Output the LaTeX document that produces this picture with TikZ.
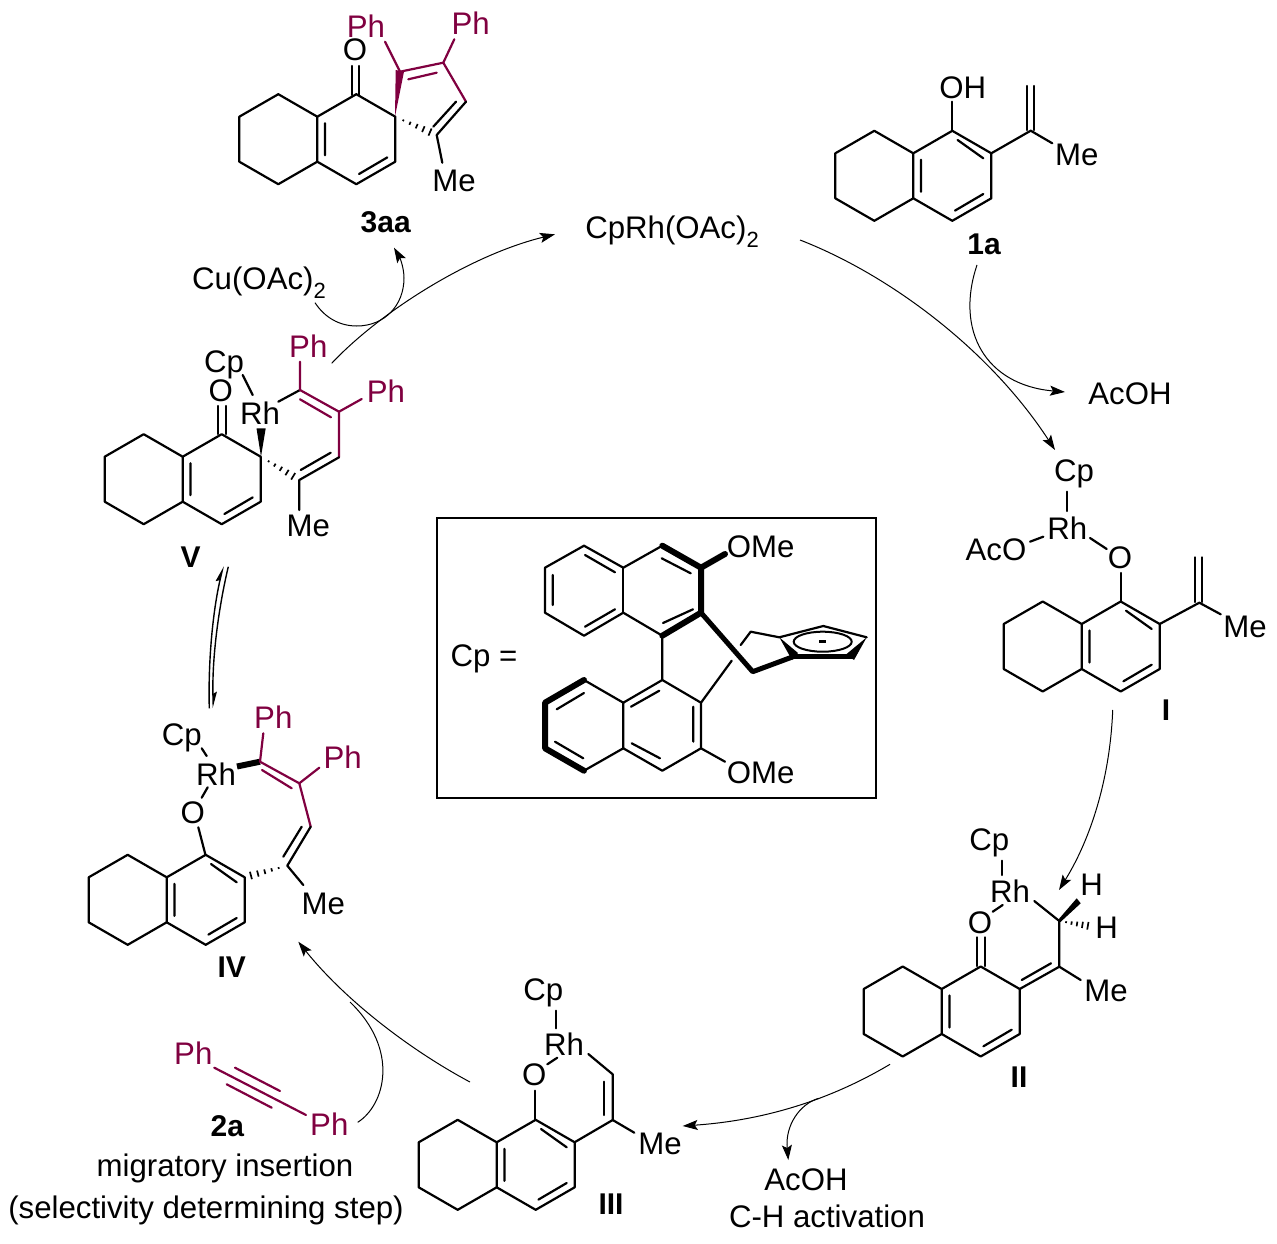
\documentclass[tikz,border=0pt]{standalone}
\usepackage{fontspec}
\setmainfont{Liberation Sans}
\usepackage{xcolor}
\usepackage{tikz}
\usetikzlibrary{calc}
\usetikzlibrary{arrows.meta}
\usetikzlibrary{shapes.geometric}
\definecolor{phcolor}{HTML}{800040}
\tikzstyle{bond}=[black, line width=2.2pt, line join=round, line cap=round]
\tikzstyle{phbond}=[phcolor, line width=2.2pt, line join=round, line cap=round]
\tikzstyle{boldbond}=[black, line width=6pt, line join=round, line cap=round]
\tikzstyle{atom}=[black, inner sep=0pt, font=\fontsize{31.2}{36}\selectfont]
\tikzstyle{phatom}=[phcolor, inner sep=0pt, font=\fontsize{31.2}{36}\selectfont]
\tikzstyle{cmpd}=[black, inner sep=0pt, font=\fontsize{30}{34}\selectfont\bfseries]
\tikzstyle{thinarrow}=[-{Stealth[length=15pt, width=10pt, inset=3pt]}, line width=1pt, color=black]
\tikzstyle{thinline}=[line width=1pt, color=black]
\newcommand{\subtwo}{\raisebox{-0.3em}{\fontsize{22}{24}\selectfont 2}}
\newcommand{\ringpair}[2]{%
\draw[bond, shift={(#1,#2)}] (0,0) -- (-39,-22.5) -- (-78,0) -- (-78,45) -- (-39,67.5) -- (0,45) -- cycle (0,0) -- (39,-22.5) -- (78,0) -- (78,45) -- (39,67.5) -- (0,45);
\draw[bond, shift={(#1,#2)}] (7.7,6.5) -- (7.7,38.5) (70,40.7) -- (41.7,57.3);}
\newcommand{\areneline}[2]{\draw[bond, shift={(#1,#2)}] (44.3,-13.3) -- (70,5);}
\newcommand{\hashbond}[2]{%
\foreach \t in {.2,.36,.52,.68,.84} {
\pgfmathsetmacro{\hw}{\t*4.6}
\draw[black, line width=1.7pt] ($(#1)!\t!(#2)!\hw pt!90:(#2)$) -- ($(#1)!\t!(#2)!\hw pt!-90:(#2)$);
}}
\begin{document}
\begin{tikzpicture}[x=1pt, y=-1pt]
\useasboundingbox (0,0) rectangle (1277,1244);

% catalyst and small species
\node [atom] (cat) at (672,231.5) {CpRh(OAc)\subtwo};
\node [atom] (cuoac) at (259,282.5) {Cu(OAc)\subtwo};
\node [atom] (acoh) at (1130,394) {AcOH};
\node [atom] (acohb) at (806,1180) {AcOH};
\node [atom] (chact) at (827,1216) {C-H activation};
\node [atom] (migr) at (225,1168) {migratory insertion};
\node [atom] (selec) at (206,1210) {(selectivity determining step)};

% 3aa
\ringpair{317.3}{116.7}
\draw[bond] (352.3,66) -- (352.3,95) (359.3,66) -- (359.3,95);
\node [atom] (o3aa) at (355,50) {O};
\node [phatom] (pha3aa) at (366,26) {Ph};
\node [phatom] (phb3aa) at (470.7,23.3) {Ph};
\fill[phcolor] (395,116.7) -- (395.7,70) -- (404,71.7) -- cycle;
\draw[phbond] (385,41.7) -- (400,71.7) -- (443.3,62.7) -- (466,101.7);
\draw[phbond] (408.3,79.3) -- (436.7,72.7);
\draw[phbond] (454.3,39.3) -- (443.3,62.7);
\draw[bond] (466,101.7) -- (436.7,135) -- (442.3,162.7);
\draw[bond] (456,101.7) -- (433.3,126.7);
\hashbond{395,116.7}{436.7,135}
\node [atom] (me3aa) at (454,181) {Me};
\node [cmpd] (lab3aa) at (385.7,222) {3aa};

% 1a
\ringpair{913.3}{153.3}
\areneline{913.3}{153.3}
\draw[bond] (952.3,130.8) -- (952.3,101.7);
\node [atom] (oh1a) at (962.7,87.3) {OH};
\draw[bond] (991.3,153.3) -- (1030.7,130.7) -- (1052.3,143.3);
\draw[bond] (1026.7,86) -- (1026.7,130) (1034,86) -- (1034,130);
\node [atom] (me1a) at (1076.7,155) {Me};
\node [cmpd] (lab1a) at (984,244.5) {1a};

% I
\ringpair{1081.7}{624}
\areneline{1081.7}{624}
\draw[bond] (1120.7,601.5) -- (1120.7,573);
\node [atom] (oI) at (1120,558) {O};
\draw[bond] (1106.7,549) -- (1090,538);
\node [atom] (rhI) at (1067.3,528.3) {Rh};
\draw[bond] (1067,491.7) -- (1067,511);
\node [atom] (cpI) at (1074,474) {Cp};
\node [atom] (acoI) at (996,549.3) {AcO};
\draw[bond] (1030,541.7) -- (1043.3,536.7);
\draw[bond] (1159.7,624) -- (1199.3,602.7) -- (1220.7,614.3);
\draw[bond] (1195,557.3) -- (1195,602) (1202.3,557.3) -- (1202.3,602);
\node [atom] (meI) at (1245,626.7) {Me};
\node [cmpd] (labI) at (1166,710) {I};

% II
\ringpair{941.7}{989}
\node [atom] (cpII) at (989.3,843) {Cp};
\draw[bond] (1001.7,860.7) -- (1001.7,875);
\node [atom] (rhII) at (1010,890.7) {Rh};
\draw[bond] (1002.7,905) -- (992.7,911.7);
\node [atom] (oII) at (980,922.7) {O};
\draw[bond] (977,937.3) -- (977,966) (985,937.3) -- (985,966);
\draw[bond] (1034.3,901) -- (1059.3,921) -- (1059.3,966.7) -- (1019.7,989);
\draw[bond] (1021.7,980) -- (1051,963.3);
\draw[bond] (1059.3,966.7) -- (1080.7,980);
\fill[black] (1058,920) -- (1076.7,898.3) -- (1080.7,903.3) -- (1060.5,922) -- cycle;
\hashbond{1059.3,921}{1093.3,926.7}
\node [atom] (haII) at (1091.7,885) {H};
\node [atom] (hbII) at (1106.7,927.3) {H};
\node [atom] (meII) at (1106,990.5) {Me};
\node [cmpd] (labII) at (1019,1077.3) {II};

% III
\ringpair{496.7}{1142.3}
\areneline{496.7}{1142.3}
\node [atom] (cpIII) at (543.3,993) {Cp};
\draw[bond] (555.7,1010.7) -- (555.7,1028.3);
\node [atom] (rhIII) at (564,1044) {Rh};
\draw[bond] (557.3,1057.7) -- (547.3,1064.3);
\node [atom] (oIII) at (534.3,1075) {O};
\draw[bond] (535,1090.7) -- (535,1120);
\draw[bond] (588.3,1054) -- (612.7,1074.3) -- (612.7,1120) -- (574.5,1142.3);
\draw[bond] (604.3,1081.7) -- (604.3,1115);
\draw[bond] (612.7,1120) -- (634.3,1132.7);
\node [atom] (meIII) at (660,1144) {Me};
\node [cmpd] (labIII) at (611,1204.5) {III};

% IV
\ringpair{166.7}{877.3}
\areneline{166.7}{877.3}
\node [atom] (cpIV) at (181.7,738) {Cp};
\draw[bond] (201.7,748.3) -- (206.7,756);
\node [atom] (rhIV) at (216,774) {Rh};
\draw[bond] (207.7,787.3) -- (201.7,797.7);
\node [atom] (oIV) at (192.7,812.7) {O};
\draw[bond] (198.3,827.3) -- (205.5,855);
\draw[boldbond, line cap=butt] (237,766.5) -- (260,761.7);
\node [phatom] (phaIV) at (273.3,717.3) {Ph};
\node [phatom] (phbIV) at (342.7,757.5) {Ph};
\draw[phbond] (263.3,733.3) -- (260,761.7) -- (299.3,783.3) -- (310.7,826.7);
\draw[phbond] (262,770) -- (291.7,788.3);
\draw[phbond] (319.3,767.7) -- (299.3,783.3);
\draw[bond] (310.7,826.7) -- (287.3,865.7) -- (303.3,885);
\draw[bond] (301.7,826.7) -- (283.3,856.7);
\hashbond{287.3,865.7}{244,877.3}
\node [atom] (meIV) at (323.3,903.5) {Me};
\node [cmpd] (labIV) at (231.7,967) {IV};

% V
\ringpair{182.7}{456.7}
\draw[bond] (218.3,406) -- (218.3,434) (225.7,406) -- (225.7,434);
\node [atom] (oV) at (220.7,391) {O};
\node [atom] (cpV) at (224,365) {Cp};
\draw[bond] (242.7,375) -- (252.7,395);
\node [atom] (rhV) at (260,413.3) {Rh};
\fill[black] (261,456.7) -- (256.5,428.3) -- (265.7,428.3) -- cycle;
\draw[bond] (278.3,401.7) -- (300,390);
\node [phatom] (phaV) at (308.3,346) {Ph};
\node [phatom] (phbV) at (386,391) {Ph};
\draw[phbond] (300,361.7) -- (300,390) -- (339,411.7) -- (339,457.3);
\draw[phbond] (300,399.3) -- (331,417.3);
\draw[phbond] (361.7,399) -- (339,411.7);
\draw[bond] (339,457.3) -- (299.3,480) -- (299.3,510);
\draw[bond] (330.7,452.7) -- (300.7,470);
\hashbond{261,456.7}{299.3,480}
\node [atom] (meV) at (308.3,526) {Me};
\node [cmpd] (labV) at (190.7,556.7) {V};

% 2a
\node [phatom] (pha2a) at (193.3,1053.3) {Ph};
\node [phatom] (phb2a) at (329.3,1124) {Ph};
\draw[phbond] (214.3,1067.7) -- (306,1115);
\draw[phbond] (235,1067.7) -- (280,1091);
\draw[phbond] (226.7,1084.3) -- (271.7,1107.7);
\node [cmpd] (lab2a) at (227.3,1126.5) {2a};

% box with the ligand
\node [draw=black, line width=2pt, minimum width=439pt, minimum height=280pt, inner sep=0pt] (cpbox) at (656.5,658) {};
\node [atom] (cpeq) at (484,659) {Cp =};
\draw[bond] (662.3,545.7) -- (623.3,567.7) -- (584,545.7) -- (545,567.7) -- (545,612.7) -- (584,635.7) -- (623.3,612.7) -- (662.3,635.7) -- (662.3,680);
\draw[bond] (623.3,567.7) -- (623.3,612.7);
\draw[bond] (585,555) -- (615,572.3) (552.7,575) -- (552.7,605) (585,626.7) -- (615,609.3);
\draw[bond] (661.7,558.3) -- (690.7,573.3) (663,623) -- (693,609.3);
\draw[boldbond] (662.3,545.7) -- (701,567.7) -- (701,612.7) -- (662.3,635.7);
\draw[boldbond] (701,567.7) -- (725,554);
\node [atom] (omea) at (760.7,546.7) {OMe};
\draw[bond] (662.3,680) -- (701,702.7) -- (701,748.3) -- (662.3,770.7) -- (623.3,748.3) -- (623.3,702.7) -- (662.3,680);
\draw[bond] (623.3,702.7) -- (584,680) (545,748.3) -- (584,770.7) -- (623.3,748.3);
\draw[boldbond] (584,680) -- (545,702.7) -- (545,748.3) -- (584,770.7);
\draw[bond] (584,693) -- (556.7,709.3) (555,741.7) -- (583.3,758.3);
\draw[bond] (631,706.7) -- (659.3,690.7) (693.3,706.7) -- (693.3,741.7) (631.7,743.3) -- (660,758.3);
\draw[bond] (701,748.3) -- (725,761.7);
\node [atom] (omeb) at (760.7,772.3) {OMe};
\draw[bond] (701,702.7) -- (731.7,660.7);
\draw[boldbond, line width=5pt] (701,612.7) -- (752.7,671.7) -- (795,656);
\draw[bond] (740.7,645) -- (750.7,631.7) -- (779.3,637.3) -- (823.3,626) -- (866.7,637.3);
\fill[black] (779.3,637.3) -- (798,653) -- (792,660) -- cycle;
\fill[black] (866.7,637.3) -- (854,660) -- (846,654.5) -- cycle;
\draw[boldbond, line width=5pt, line cap=butt] (795,656.5) -- (851.7,656.5);
\node [draw=black, line width=2pt, shape=ellipse, minimum width=58pt, minimum height=20pt, inner sep=0pt] (cpring) at (822.7,641.7) {};
\node [black, inner sep=0pt, minimum width=7pt, minimum height=2.6pt, fill=black] (cpminus) at (822.7,641.5) {};

% cycle arrows
\coordinate (vout) at (331.7,363.3);
\coordinate (catin) at (555,234.3);
\coordinate (catout) at (800,240);
\coordinate (iin) at (1055,450);
\coordinate (aout) at (977,265);
\coordinate (acohin) at (1065,392);
\coordinate (iout) at (1112.7,710);
\coordinate (iiin) at (1059,890);
\coordinate (iiout) at (890,1064.3);
\coordinate (iiiin) at (682.7,1126);
\coordinate (branch) at (818.4,1098.4);
\coordinate (acohbin) at (788.3,1160);
\coordinate (iiiout) at (470,1082);
\coordinate (ivin) at (298.3,941.7);
\coordinate (alkout) at (357.7,1122.3);
\coordinate (alkend) at (350,1002);
\coordinate (cuout) at (315,302.7);
\coordinate (prodin) at (394,247.7);
\coordinate (ivup) at (209.3,708.3);
\coordinate (vdown) at (223.3,566);
\coordinate (vup) at (228.3,566.7);
\coordinate (ivdown) at (213.3,708.3);

\draw[thinarrow] (vout) .. controls (380,312) and (470,255) .. (catin);
\draw[thinarrow] (cuout) .. controls (325,318) and (340,326) .. (356.7,326) .. controls (385,326) and (404,305) .. (404,278) .. controls (404,268) and (400,258) .. (prodin);
\draw[thinarrow] (catout) .. controls (890,275) and (990,350) .. (iin);
\draw[thinarrow] (aout) .. controls (955,330) and (985,385) .. (acohin);
\draw[thinarrow] (iout) .. controls (1110,780) and (1090,840) .. (iiin);
\draw[thinarrow] (iiout) .. controls (835,1097) and (770,1120) .. (iiiin);
\draw[thinarrow] (branch) .. controls (800,1104) and (785,1125) .. (acohbin);
\draw[thinarrow] (iiiout) .. controls (410,1050) and (345,1000) .. (ivin);
\draw[thinline] (alkout) .. controls (385,1105) and (400,1050) .. (alkend);
\draw[-{Stealth[length=14pt, width=8pt, inset=2pt, harpoon]}, line width=1.4pt] (ivup) .. controls (208,660) and (213,610) .. (vdown);
\draw[-{Stealth[length=14pt, width=8pt, inset=2pt, harpoon]}, line width=1.4pt] (vup) .. controls (218,610) and (212,660) .. (ivdown);
\end{tikzpicture}
\end{document}
